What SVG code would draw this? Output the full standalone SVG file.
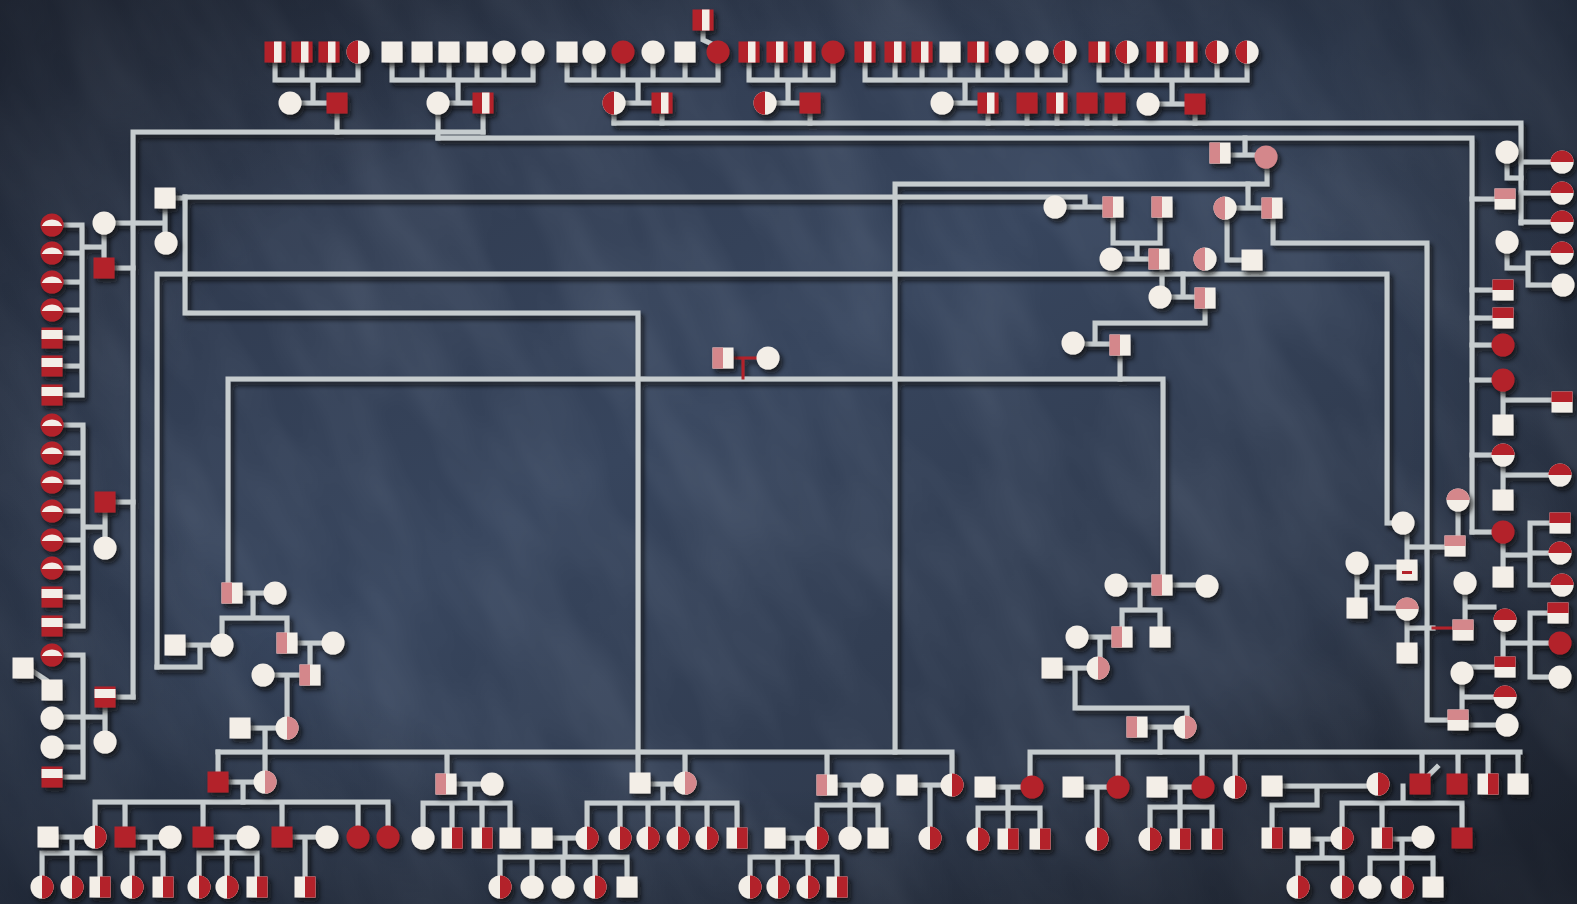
<svg xmlns="http://www.w3.org/2000/svg" xmlns:xlink="http://www.w3.org/1999/xlink" width="1577" height="904" viewBox="0 0 1577 904">
<style>
.w{fill:#f3eee7}.r{fill:#b3222c}.p{fill:#d4878b}
.c path{fill:none;stroke:#c6ccce;stroke-width:5;stroke-linecap:square}
.c path.red{stroke:#b3232b;stroke-width:3}
</style>
<defs>
<linearGradient id="bg" x1="0" y1="0" x2="1" y2="1">
<stop offset="0" stop-color="#2b3446"/><stop offset="0.45" stop-color="#37455d"/><stop offset="1" stop-color="#28303f"/>
</linearGradient>
<radialGradient id="vig" cx="0.5" cy="0.48" r="0.78">
<stop offset="0.5" stop-color="#000" stop-opacity="0"/><stop offset="1" stop-color="#0d1018" stop-opacity="0.6"/>
</radialGradient>
<filter id="tex" x="0" y="0" width="100%" height="100%">
<feTurbulence type="fractalNoise" baseFrequency="0.015 0.005" numOctaves="3" seed="7"/>
<feColorMatrix values="0 0 0 0 0.5  0 0 0 0 0.58  0 0 0 0 0.72  0.22 0 0 0 -0.07"/>
</filter>
<filter id="sh" x="-2%" y="-2%" width="104%" height="104%">
<feDropShadow dx="3" dy="4" stdDeviation="2.5" flood-color="#0a0910" flood-opacity="0.8"/>
</filter>
<g id="sW"><rect class="w" x="-10.5" y="-10.5" width="21" height="21"/></g>
<g id="sR"><rect class="r" x="-10.5" y="-10.5" width="21" height="21"/></g>
<g id="sL"><rect class="r" x="-10.5" y="-10.5" width="21" height="21"/><rect class="w" x="-1" y="-10.5" width="7.5" height="21"/></g>
<g id="sRh"><rect class="w" x="-10.5" y="-10.5" width="21" height="21"/><rect class="r" x="0" y="-10.5" width="10.5" height="21"/></g>
<g id="sT"><rect class="w" x="-10.5" y="-10.5" width="21" height="21"/><rect class="r" x="-10.5" y="-10.5" width="21" height="10.5"/></g>
<g id="sB"><rect class="r" x="-10.5" y="-10.5" width="21" height="21"/><rect class="w" x="-10.5" y="-8" width="21" height="9"/></g>
<g id="sP"><rect class="w" x="-10.5" y="-10.5" width="21" height="21"/><rect class="p" x="-10.5" y="-10.5" width="10.5" height="21"/></g>
<g id="sPT"><rect class="w" x="-10.5" y="-10.5" width="21" height="21"/><rect class="p" x="-10.5" y="-10.5" width="21" height="10.5"/></g>
<g id="sWm"><rect class="w" x="-10.5" y="-10.5" width="21" height="21"/><rect class="r" x="-5" y="1" width="10" height="3"/></g>
<g id="cW"><circle class="w" r="11.5"/></g>
<g id="cR"><circle class="r" r="11.5"/></g>
<g id="cL"><circle class="w" r="11.5"/><path class="r" d="M0,-11.5A11.5,11.5 0 0 0 0,11.5Z"/></g>
<g id="cRh"><circle class="w" r="11.5"/><path class="r" d="M0,-11.5A11.5,11.5 0 0 1 0,11.5Z"/></g>
<g id="cT"><circle class="w" r="11.5"/><path class="r" d="M-11.5,0A11.5,11.5 0 0 1 11.5,0Z"/></g>
<g id="cB"><circle class="r" r="11.5"/><path class="w" d="M-10.3,1A11.5,11.5 0 0 1 10.3,1Z"/></g>
<g id="cPL"><circle class="w" r="11.5"/><path class="p" d="M0,-11.5A11.5,11.5 0 0 0 0,11.5Z"/></g>
<g id="cPR"><circle class="w" r="11.5"/><path class="p" d="M0,-11.5A11.5,11.5 0 0 1 0,11.5Z"/></g>
<g id="cPT"><circle class="w" r="11.5"/><path class="p" d="M-11.5,0A11.5,11.5 0 0 1 11.5,0Z"/></g>
<g id="cPk"><circle class="p" r="11.5"/></g>
</defs>
<rect width="1577" height="904" fill="url(#bg)"/>
<rect x="-400" y="-600" width="2400" height="2100" transform="rotate(-28 788 452)" filter="url(#tex)"/>
<rect width="1577" height="904" fill="url(#vig)"/>

<g id="connectors" class="c" filter="url(#sh)">
<path d="M275,63V80M302,63V80M329,63V80M358,64V80M275,80H358M313,80V103M301,103H326M337,114V132"/>
<path d="M392,63V80M422,63V80M449,63V80M477,63V80M504,64V80M533,64V80M392,80H533M458,80V103M449,103H472M438,115V138M483,114V132"/>
<path d="M567,63V80M594,64V80M623,64V80M653,64V80M685,63V80M718,64V80M567,80H718M638,80V103M626,103H651M614,115V123M662,114V123M703,31V40L712,44"/>
<path d="M749,63V80M777,63V80M805,63V80M833,64V80M749,80H833M788,80V103M777,103H799M810,114V123"/>
<path d="M865,63V80M895,63V80M922,63V80M950,63V80M978,63V80M1007,64V80M1037,64V80M1065,64V80M865,80H1065M965,80V103M954,103H977M988,114V123M1027,114V123M1057,114V123M1087,114V123M1115,114V123"/>
<path d="M1099,63V80M1127,64V80M1157,63V80M1187,63V80M1217,64V80M1247,64V80M1099,80H1247M1172,80V104M1160,104H1184M1195,115V123"/>
<path d="M133,132H483M133,132V697"/>
<path d="M438,138H1472V532"/>
<path d="M614,123H1521V223"/>
<path d="M1245,138V155M1232,155H1254"/>
<path d="M1267,168V184H895V752"/>
<path d="M1248,184V208M1237,208H1260"/>
<path d="M1273,219V243H1427V720H1447"/>
<path d="M1227,220V260H1241"/>
<path d="M185,197H1085V207M1067,207H1102"/>
<path d="M165,209V232M116,223H165M176,198H185"/>
<path d="M185,197V313H638V772"/>
<path d="M157,667V274H1387V523H1392"/>
<path d="M1113,218V243H1160V218M1137,243V259M1123,259H1148"/>
<path d="M1162,270V286M1183,274V297M1171,297H1194"/>
<path d="M1205,309V323H1095V344M1085,344H1109M1120,356V379"/>
<path d="M228,582V379H1163V574"/>
<path class="red" d="M734,358H756M743,358V378"/>
<path d="M1128,585H1151M1173,585H1195M1140,585V610M1122,610H1160M1122,610V626M1160,610V626"/>
<path d="M1089,637H1111M1100,637V657M1063,668H1087M1075,668V708H1187V716M1148,727H1173M1160,727V752"/>
<path d="M243,593H263M253,593V618M222,618H287M222,618V634M287,618V632M186,645H210M200,645V667H157M298,643H321M310,643V664M275,675H299M287,675V717M251,728H275M265,728V771M218,752V771M229,782H253M243,782V802"/>
<path d="M218,752H950M447,752V772M685,752V772M827,752V773M952,752V773"/>
<path d="M1030,752H1520M1030,752V775M1118,752V775M1202,752V775M1235,752V775M1422,752V772M1458,752V772M1488,752V772M1518,752V772"/>
<path d="M95,802H388M95,802V826M125,802V826M203,802V826M282,802V826M358,802V826M388,802V826"/>
<path d="M59,837H83M72,837V853M42,853H100M42,853V876M72,853V876M100,853V876"/>
<path d="M136,837H158M150,837V853M132,853H163M132,853V876M163,853V876"/>
<path d="M214,837H236M227,837V853M199,853H257M199,853V876M227,853V876M257,853V876"/>
<path d="M293,837H315M305,837V876"/>
<path d="M457,784H480M470,784V803M423,803H510M423,803V827M452,803V827M482,803V827M510,803V827"/>
<path d="M651,784H673M663,784V803M587,803H737M587,803V827M620,803V827M648,803V827M678,803V827M707,803V827M737,803V827"/>
<path d="M553,838H575M565,838V857M500,857H627M500,857V876M532,857V876M563,857V876M595,857V876M627,857V876"/>
<path d="M838,785H860M850,785V805M817,805H878M817,805V827M850,805V827M878,805V827"/>
<path d="M786,838H805M797,838V857M750,857H837M750,857V876M778,857V876M808,857V876M837,857V876"/>
<path d="M918,785H940M930,785V827"/>
<path d="M996,787H1020M1008,787V808M978,808H1040M978,808V828M1008,808V828M1040,808V828"/>
<path d="M1084,787H1106M1097,787V828"/>
<path d="M1168,787H1191M1180,787V807M1150,807H1212M1150,807V828M1180,807V828M1212,807V828"/>
<path d="M1283,786H1366M1317,786V805H1272V827"/>
<path d="M1403,786V803M1342,803H1462M1342,803V827M1382,803V827M1462,803V827M1428,776L1437,767"/>
<path d="M1311,839H1330M1322,839V858M1298,858H1342M1298,858V876M1342,858V876"/>
<path d="M1393,839H1411M1402,839V858M1370,858H1433M1370,858V876M1402,858V876M1433,858V876"/>
<path d="M82,225V395M64,225H82M64,253H82M64,282H82M64,310H82M63,338H82M63,366H82M63,395H82M82,247H104M104,234V257M115,268H133"/>
<path d="M83,425V626M64,425H83M64,453H83M64,482H83M64,511H83M64,540H83M64,568H83M63,597H83M63,626H83M83,527H105M105,513V537M116,502H133"/>
<path d="M83,655V777M64,655H83M64,717H83M64,747H83M63,777H83M83,717H105M105,708V731M116,697H133M34,672L46,680"/>
<path d="M1521,162H1550M1521,193H1550M1521,222H1550M1472,199H1494M1472,290H1492M1507,164V178H1521M1507,254V268H1528M1528,253V285M1528,253H1550M1528,285H1551"/>
<path d="M1472,318H1492M1472,345H1491M1472,380H1491M1503,392V414M1503,400H1550M1472,455H1491M1503,467V489M1503,475H1548M1472,532H1491M1503,544V566M1503,555H1530M1530,523V585M1530,523H1549M1530,553H1548M1530,585H1550"/>
<path d="M1465,595V619M1465,607H1494M1503,633V656M1503,643H1530M1530,613V677M1530,613H1547M1530,643H1548M1530,677H1548M1462,684V709M1462,667H1494M1462,697H1493M1462,725H1495"/>
<path d="M1407,535V559M1407,547H1445M1458,512V535M1377,567H1397M1377,567V608H1396M1357,575V597M1357,587H1377M1407,621V642M1407,628H1433"/>
<path class="red" d="M1433,628H1452"/>
</g>

<g id="nodes" filter="url(#sh)">
<g id="n1"><use href="#sL" x="275" y="52"/></g>
<g id="n2"><use href="#sL" x="302" y="52"/></g>
<g id="n3"><use href="#sL" x="329" y="52"/></g>
<g id="n4"><use href="#cL" x="358" y="52"/></g>
<g id="n5"><use href="#sW" x="392" y="52"/></g>
<g id="n6"><use href="#sW" x="422" y="52"/></g>
<g id="n7"><use href="#sW" x="449" y="52"/></g>
<g id="n8"><use href="#sW" x="477" y="52"/></g>
<g id="n9"><use href="#cW" x="504" y="52"/></g>
<g id="n10"><use href="#cW" x="533" y="52"/></g>
<g id="n11"><use href="#sW" x="567" y="52"/></g>
<g id="n12"><use href="#cW" x="594" y="52"/></g>
<g id="n13"><use href="#cR" x="623" y="52"/></g>
<g id="n14"><use href="#cW" x="653" y="52"/></g>
<g id="n15"><use href="#sW" x="685" y="52"/></g>
<g id="n16"><use href="#cR" x="718" y="52"/></g>
<g id="n17"><use href="#sL" x="703" y="20"/></g>
<g id="n18"><use href="#sL" x="749" y="52"/></g>
<g id="n19"><use href="#sL" x="777" y="52"/></g>
<g id="n20"><use href="#sL" x="805" y="52"/></g>
<g id="n21"><use href="#cR" x="833" y="52"/></g>
<g id="n22"><use href="#sL" x="865" y="52"/></g>
<g id="n23"><use href="#sL" x="895" y="52"/></g>
<g id="n24"><use href="#sL" x="922" y="52"/></g>
<g id="n25"><use href="#sW" x="950" y="52"/></g>
<g id="n26"><use href="#sL" x="978" y="52"/></g>
<g id="n27"><use href="#cW" x="1007" y="52"/></g>
<g id="n28"><use href="#cW" x="1037" y="52"/></g>
<g id="n29"><use href="#cL" x="1065" y="52"/></g>
<g id="n30"><use href="#sL" x="1099" y="52"/></g>
<g id="n31"><use href="#cL" x="1127" y="52"/></g>
<g id="n32"><use href="#sL" x="1157" y="52"/></g>
<g id="n33"><use href="#sL" x="1187" y="52"/></g>
<g id="n34"><use href="#cL" x="1217" y="52"/></g>
<g id="n35"><use href="#cL" x="1247" y="52"/></g>
<g id="n36"><use href="#cW" x="290" y="103"/></g>
<g id="n37"><use href="#sR" x="337" y="103"/></g>
<g id="n38"><use href="#cW" x="438" y="103"/></g>
<g id="n39"><use href="#sL" x="483" y="103"/></g>
<g id="n40"><use href="#cL" x="614" y="103"/></g>
<g id="n41"><use href="#sL" x="662" y="103"/></g>
<g id="n42"><use href="#cL" x="765" y="103"/></g>
<g id="n43"><use href="#sR" x="810" y="103"/></g>
<g id="n44"><use href="#cW" x="942" y="103"/></g>
<g id="n45"><use href="#sL" x="988" y="103"/></g>
<g id="n46"><use href="#sR" x="1027" y="103"/></g>
<g id="n47"><use href="#sL" x="1057" y="103"/></g>
<g id="n48"><use href="#sR" x="1087" y="103"/></g>
<g id="n49"><use href="#sR" x="1115" y="103"/></g>
<g id="n50"><use href="#cW" x="1148" y="104"/></g>
<g id="n51"><use href="#sR" x="1195" y="104"/></g>
<g id="n52"><use href="#sP" x="1220" y="153"/></g>
<g id="n53"><use href="#cPk" x="1266" y="157"/></g>
<g id="n54"><use href="#cPL" x="1225" y="208"/></g>
<g id="n55"><use href="#sP" x="1272" y="208"/></g>
<g id="n56"><use href="#cPL" x="1205" y="259"/></g>
<g id="n57"><use href="#sW" x="1252" y="260"/></g>
<g id="n58"><use href="#cW" x="1055" y="207"/></g>
<g id="n59"><use href="#sP" x="1113" y="207"/></g>
<g id="n60"><use href="#sP" x="1162" y="207"/></g>
<g id="n61"><use href="#cW" x="1111" y="259"/></g>
<g id="n62"><use href="#sP" x="1159" y="259"/></g>
<g id="n63"><use href="#cW" x="1160" y="297"/></g>
<g id="n64"><use href="#sP" x="1205" y="298"/></g>
<g id="n65"><use href="#cW" x="1073" y="343"/></g>
<g id="n66"><use href="#sP" x="1120" y="345"/></g>
<g id="n67"><use href="#sP" x="723" y="358"/></g>
<g id="n68"><use href="#cW" x="768" y="358"/></g>
<g id="n69"><use href="#cW" x="1507" y="152"/></g>
<g id="n70"><use href="#sPT" x="1505" y="199"/></g>
<g id="n71"><use href="#cT" x="1562" y="162"/></g>
<g id="n72"><use href="#cT" x="1562" y="193"/></g>
<g id="n73"><use href="#cT" x="1562" y="222"/></g>
<g id="n74"><use href="#cW" x="1507" y="242"/></g>
<g id="n75"><use href="#sT" x="1503" y="290"/></g>
<g id="n76"><use href="#cT" x="1562" y="253"/></g>
<g id="n77"><use href="#cW" x="1563" y="285"/></g>
<g id="n78"><use href="#sT" x="1503" y="318"/></g>
<g id="n79"><use href="#cR" x="1503" y="345"/></g>
<g id="n80"><use href="#cR" x="1503" y="380"/></g>
<g id="n81"><use href="#sW" x="1503" y="425"/></g>
<g id="n82"><use href="#sT" x="1562" y="402"/></g>
<g id="n83"><use href="#cT" x="1503" y="455"/></g>
<g id="n84"><use href="#sW" x="1503" y="500"/></g>
<g id="n85"><use href="#cT" x="1560" y="475"/></g>
<g id="n86"><use href="#cR" x="1503" y="532"/></g>
<g id="n87"><use href="#sW" x="1503" y="577"/></g>
<g id="n88"><use href="#sT" x="1560" y="523"/></g>
<g id="n89"><use href="#cT" x="1560" y="553"/></g>
<g id="n90"><use href="#cT" x="1562" y="585"/></g>
<g id="n91"><use href="#cT" x="1505" y="620"/></g>
<g id="n92"><use href="#sT" x="1505" y="667"/></g>
<g id="n93"><use href="#sT" x="1558" y="613"/></g>
<g id="n94"><use href="#cR" x="1560" y="643"/></g>
<g id="n95"><use href="#cW" x="1560" y="677"/></g>
<g id="n96"><use href="#cT" x="1505" y="697"/></g>
<g id="n97"><use href="#cW" x="1507" y="725"/></g>
<g id="n98"><use href="#cW" x="1462" y="673"/></g>
<g id="n99"><use href="#sPT" x="1458" y="720"/></g>
<g id="n100"><use href="#cW" x="1403" y="523"/></g>
<g id="n101"><use href="#cPT" x="1458" y="500"/></g>
<g id="n102"><use href="#sPT" x="1455" y="546"/></g>
<g id="n103"><use href="#sWm" x="1407" y="570"/></g>
<g id="n104"><use href="#cW" x="1357" y="563"/></g>
<g id="n105"><use href="#sW" x="1357" y="608"/></g>
<g id="n106"><use href="#cPT" x="1407" y="609"/></g>
<g id="n107"><use href="#cW" x="1465" y="583"/></g>
<g id="n108"><use href="#sPT" x="1463" y="630"/></g>
<g id="n109"><use href="#sW" x="1407" y="653"/></g>
<g id="n110"><use href="#cW" x="1116" y="585"/></g>
<g id="n111"><use href="#sP" x="1162" y="585"/></g>
<g id="n112"><use href="#cW" x="1207" y="586"/></g>
<g id="n113"><use href="#cW" x="1077" y="637"/></g>
<g id="n114"><use href="#sP" x="1122" y="637"/></g>
<g id="n115"><use href="#sW" x="1160" y="637"/></g>
<g id="n116"><use href="#sW" x="1052" y="668"/></g>
<g id="n117"><use href="#cPR" x="1098" y="668"/></g>
<g id="n118"><use href="#sP" x="1137" y="727"/></g>
<g id="n119"><use href="#cPR" x="1185" y="727"/></g>
<g id="n120"><use href="#sP" x="232" y="593"/></g>
<g id="n121"><use href="#cW" x="275" y="593"/></g>
<g id="n122"><use href="#sW" x="175" y="645"/></g>
<g id="n123"><use href="#cW" x="222" y="645"/></g>
<g id="n124"><use href="#sP" x="287" y="643"/></g>
<g id="n125"><use href="#cW" x="333" y="643"/></g>
<g id="n126"><use href="#cW" x="263" y="675"/></g>
<g id="n127"><use href="#sP" x="310" y="675"/></g>
<g id="n128"><use href="#sW" x="240" y="728"/></g>
<g id="n129"><use href="#cPR" x="287" y="728"/></g>
<g id="n130"><use href="#sR" x="218" y="782"/></g>
<g id="n131"><use href="#cPR" x="265" y="782"/></g>
<g id="n132"><use href="#cW" x="104" y="223"/></g>
<g id="n133"><use href="#sR" x="104" y="268"/></g>
<g id="n134"><use href="#sW" x="165" y="198"/></g>
<g id="n135"><use href="#cW" x="166" y="243"/></g>
<g id="n136"><use href="#cB" x="52" y="225"/></g>
<g id="n137"><use href="#cB" x="52" y="253"/></g>
<g id="n138"><use href="#cB" x="52" y="282"/></g>
<g id="n139"><use href="#cB" x="52" y="310"/></g>
<g id="n140"><use href="#sB" x="52" y="338"/></g>
<g id="n141"><use href="#sB" x="52" y="366"/></g>
<g id="n142"><use href="#sB" x="52" y="395"/></g>
<g id="n143"><use href="#cB" x="52" y="425"/></g>
<g id="n144"><use href="#cB" x="52" y="453"/></g>
<g id="n145"><use href="#cB" x="52" y="482"/></g>
<g id="n146"><use href="#cB" x="52" y="511"/></g>
<g id="n147"><use href="#cB" x="52" y="540"/></g>
<g id="n148"><use href="#cB" x="52" y="568"/></g>
<g id="n149"><use href="#sB" x="52" y="597"/></g>
<g id="n150"><use href="#sB" x="52" y="626"/></g>
<g id="n151"><use href="#cB" x="52" y="655"/></g>
<g id="n152"><use href="#sW" x="52" y="690"/></g>
<g id="n153"><use href="#cW" x="52" y="718"/></g>
<g id="n154"><use href="#cW" x="52" y="747"/></g>
<g id="n155"><use href="#sB" x="52" y="777"/></g>
<g id="n156"><use href="#sW" x="23" y="668"/></g>
<g id="n157"><use href="#sR" x="105" y="502"/></g>
<g id="n158"><use href="#cW" x="105" y="548"/></g>
<g id="n159"><use href="#sB" x="105" y="697"/></g>
<g id="n160"><use href="#cW" x="105" y="742"/></g>
<g id="n161"><use href="#sW" x="48" y="837"/></g>
<g id="n162"><use href="#cRh" x="95" y="837"/></g>
<g id="n163"><use href="#sR" x="125" y="837"/></g>
<g id="n164"><use href="#cW" x="170" y="837"/></g>
<g id="n165"><use href="#sR" x="203" y="837"/></g>
<g id="n166"><use href="#cW" x="248" y="837"/></g>
<g id="n167"><use href="#sR" x="282" y="837"/></g>
<g id="n168"><use href="#cW" x="327" y="837"/></g>
<g id="n169"><use href="#cR" x="358" y="837"/></g>
<g id="n170"><use href="#cR" x="388" y="837"/></g>
<g id="n171"><use href="#cRh" x="42" y="887"/></g>
<g id="n172"><use href="#cRh" x="72" y="887"/></g>
<g id="n173"><use href="#sRh" x="100" y="887"/></g>
<g id="n174"><use href="#cRh" x="132" y="887"/></g>
<g id="n175"><use href="#sRh" x="163" y="887"/></g>
<g id="n176"><use href="#cRh" x="199" y="887"/></g>
<g id="n177"><use href="#cRh" x="227" y="887"/></g>
<g id="n178"><use href="#sRh" x="257" y="887"/></g>
<g id="n179"><use href="#sRh" x="305" y="887"/></g>
<g id="n180"><use href="#sP" x="446" y="784"/></g>
<g id="n181"><use href="#cW" x="492" y="784"/></g>
<g id="n182"><use href="#sW" x="640" y="783"/></g>
<g id="n183"><use href="#cPR" x="685" y="783"/></g>
<g id="n184"><use href="#sP" x="827" y="785"/></g>
<g id="n185"><use href="#cW" x="872" y="785"/></g>
<g id="n186"><use href="#sW" x="907" y="785"/></g>
<g id="n187"><use href="#cRh" x="952" y="785"/></g>
<g id="n188"><use href="#cW" x="423" y="838"/></g>
<g id="n189"><use href="#sRh" x="452" y="838"/></g>
<g id="n190"><use href="#sRh" x="482" y="838"/></g>
<g id="n191"><use href="#sW" x="510" y="838"/></g>
<g id="n192"><use href="#sW" x="542" y="838"/></g>
<g id="n193"><use href="#cRh" x="587" y="838"/></g>
<g id="n194"><use href="#cRh" x="620" y="838"/></g>
<g id="n195"><use href="#cRh" x="648" y="838"/></g>
<g id="n196"><use href="#cRh" x="678" y="838"/></g>
<g id="n197"><use href="#cRh" x="707" y="838"/></g>
<g id="n198"><use href="#sRh" x="737" y="838"/></g>
<g id="n199"><use href="#sW" x="775" y="838"/></g>
<g id="n200"><use href="#cRh" x="817" y="838"/></g>
<g id="n201"><use href="#cW" x="850" y="838"/></g>
<g id="n202"><use href="#sW" x="878" y="838"/></g>
<g id="n203"><use href="#cRh" x="930" y="838"/></g>
<g id="n204"><use href="#cRh" x="500" y="887"/></g>
<g id="n205"><use href="#cW" x="532" y="887"/></g>
<g id="n206"><use href="#cW" x="563" y="887"/></g>
<g id="n207"><use href="#cRh" x="595" y="887"/></g>
<g id="n208"><use href="#sW" x="627" y="887"/></g>
<g id="n209"><use href="#cRh" x="750" y="887"/></g>
<g id="n210"><use href="#cRh" x="778" y="887"/></g>
<g id="n211"><use href="#cRh" x="808" y="887"/></g>
<g id="n212"><use href="#sRh" x="837" y="887"/></g>
<g id="n213"><use href="#sW" x="985" y="787"/></g>
<g id="n214"><use href="#cR" x="1032" y="787"/></g>
<g id="n215"><use href="#sW" x="1073" y="787"/></g>
<g id="n216"><use href="#cR" x="1118" y="787"/></g>
<g id="n217"><use href="#sW" x="1157" y="787"/></g>
<g id="n218"><use href="#cR" x="1203" y="787"/></g>
<g id="n219"><use href="#cRh" x="1235" y="787"/></g>
<g id="n220"><use href="#sW" x="1272" y="786"/></g>
<g id="n221"><use href="#cRh" x="1378" y="784"/></g>
<g id="n222"><use href="#sR" x="1420" y="784"/></g>
<g id="n223"><use href="#sR" x="1457" y="784"/></g>
<g id="n224"><use href="#sRh" x="1488" y="784"/></g>
<g id="n225"><use href="#sW" x="1518" y="784"/></g>
<g id="n226"><use href="#cRh" x="978" y="839"/></g>
<g id="n227"><use href="#sRh" x="1008" y="839"/></g>
<g id="n228"><use href="#sRh" x="1040" y="839"/></g>
<g id="n229"><use href="#cRh" x="1097" y="839"/></g>
<g id="n230"><use href="#cRh" x="1150" y="839"/></g>
<g id="n231"><use href="#sRh" x="1180" y="839"/></g>
<g id="n232"><use href="#sRh" x="1212" y="839"/></g>
<g id="n233"><use href="#sRh" x="1272" y="838"/></g>
<g id="n234"><use href="#sW" x="1300" y="838"/></g>
<g id="n235"><use href="#cRh" x="1342" y="838"/></g>
<g id="n236"><use href="#sRh" x="1382" y="838"/></g>
<g id="n237"><use href="#cW" x="1423" y="837"/></g>
<g id="n238"><use href="#sR" x="1462" y="838"/></g>
<g id="n239"><use href="#cRh" x="1298" y="887"/></g>
<g id="n240"><use href="#cRh" x="1342" y="887"/></g>
<g id="n241"><use href="#cW" x="1370" y="887"/></g>
<g id="n242"><use href="#cRh" x="1402" y="887"/></g>
<g id="n243"><use href="#sW" x="1433" y="887"/></g>
</g>
</svg>
